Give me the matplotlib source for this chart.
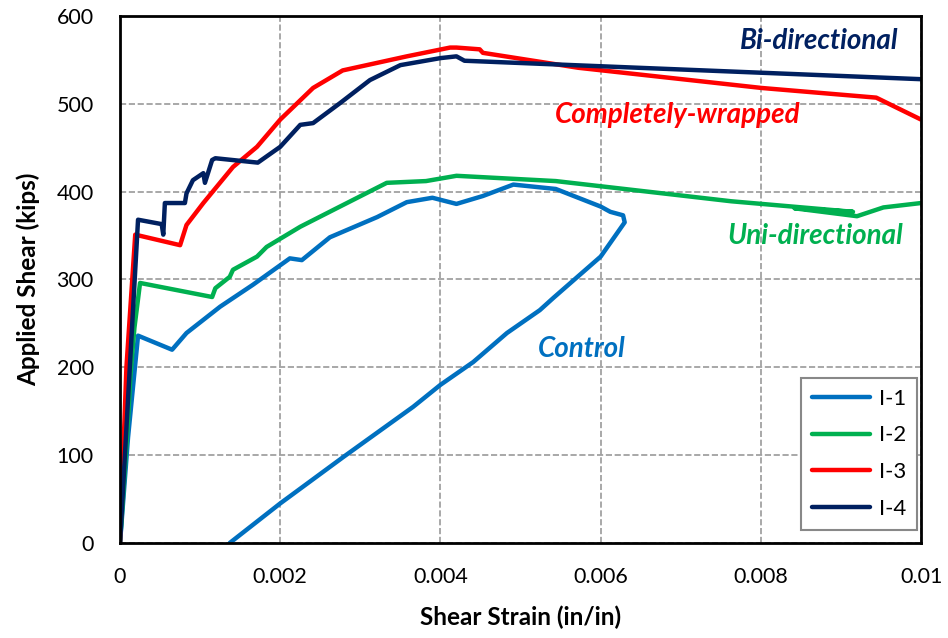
import matplotlib
matplotlib.use("Agg")
import matplotlib.pyplot as plt

plt.rcParams['font.family'] = ['Lato', 'DejaVu Sans']

# I-1 (control)
x1 = [0, 0.0001, 0.000225, 0.00065, 0.00083, 0.00125, 0.00166, 0.00212, 0.00227, 0.00262, 0.00321,
      0.00358, 0.0039, 0.0042, 0.00453, 0.00491, 0.00544, 0.006, 0.00612, 0.00628, 0.0063, 0.006,
      0.00541, 0.00524, 0.00483, 0.00441, 0.004, 0.00366, 0.00279, 0.002, 0.00137]
y1 = [0, 120, 236, 220, 239, 269, 294, 324, 322, 348, 371,
      388, 393, 386, 395, 408, 403, 383, 377, 373, 365, 326,
      279, 265, 239, 206, 180, 155, 98, 45, 0]
# I-2 (uni-directional)
x2 = [0, 0.0001, 0.00013, 0.00018, 0.00025, 0.00115, 0.00119, 0.00137, 0.00141, 0.00171, 0.00183,
      0.00225, 0.00266, 0.00333, 0.00382, 0.0042, 0.00544, 0.00763, 0.00915, 0.00842, 0.0092,
      0.00953, 0.01]
y2 = [0, 140, 190, 245, 296, 280, 290, 303, 311, 326, 337,
      360, 379, 410, 412, 418, 412, 389, 377, 381, 372,
      382, 387]
# I-3 (completely-wrapped)
x3 = [0, 0.00008, 0.00019, 0.00075, 0.00083, 0.00104, 0.00141, 0.00171, 0.002, 0.00241, 0.00278,
      0.00328, 0.00358, 0.00412, 0.0042, 0.00449, 0.00453, 0.00572, 0.00801, 0.00944, 0.01]
y3 = [0, 200, 351, 339, 362, 387, 428, 451, 482, 518, 538,
      548, 554, 564, 564, 562, 558, 541, 518, 507, 482]
# I-4 (bi-directional)
x4 = [0, 0.000225, 0.00052, 0.00054, 0.00056, 0.00081, 0.00083, 0.00091, 0.00104, 0.00106, 0.00115,
      0.00119, 0.00172, 0.002, 0.00225, 0.00241, 0.00275, 0.00312, 0.0035, 0.004, 0.0042, 0.0043, 0.01]
y4 = [0, 368, 363, 351, 387, 387, 398, 413, 421, 410, 436,
      438, 433, 451, 476, 478, 501, 527, 544, 552, 554, 549, 528]

series = [("I-1", x1, y1, "#0070C0"), ("I-2", x2, y2, "#00B050"),
          ("I-3", x3, y3, "#FF0000"), ("I-4", x4, y4, "#002060")]

fig = plt.figure(figsize=(9.48, 6.38), dpi=100)
ax = fig.add_axes([0.1266, 0.149, 0.845, 0.826])
for name, x, y, c in series:
    ax.plot(x, y, color=c, lw=3.2, label=name, solid_capstyle='round', solid_joinstyle='round')

ax.set_xlim(0, 0.01)
ax.set_ylim(0, 600)
ax.set_xticks([0, 0.002, 0.004, 0.006, 0.008, 0.01])
ax.set_xticklabels(["0", "0.002", "0.004", "0.006", "0.008", "0.01"])
ax.set_yticks(range(0, 601, 100))
ax.tick_params(length=0, labelsize=15.5)
ax.tick_params(axis='x', pad=17)
ax.tick_params(axis='y', pad=19)
ax.grid(True, ls='--', color='#999999', lw=1.2)
for s in ax.spines.values():
    s.set_linewidth(2)
    s.set_color('black')
ax.set_xlabel("Shear Strain (in/in)", fontsize=17.5, fontweight='bold', labelpad=14)
ax.set_ylabel("Applied Shear (kips)", fontsize=17.5, fontweight='bold', labelpad=12)

ax.text(0.00972, 572, "Bi-directional", color="#002060", fontsize=20, fontweight='bold',
        style='italic', ha='right', va='center')
ax.text(0.0085, 487, "Completely-wrapped", color="#FF0000", fontsize=20, fontweight='bold',
        style='italic', ha='right', va='center')
ax.text(0.00978, 349, "Uni-directional", color="#00B050", fontsize=20, fontweight='bold',
        style='italic', ha='right', va='center')
ax.text(0.00577, 221, "Control", color="#0070C0", fontsize=20, fontweight='bold',
        style='italic', ha='center', va='center')

leg = ax.legend(loc='lower right', fontsize=16, fancybox=False, edgecolor='#888888',
                framealpha=1, handlelength=2.6, handletextpad=0.4, borderpad=0.5,
                labelspacing=0.75, borderaxespad=0, bbox_to_anchor=(0.995, 0.025))
leg.get_frame().set_linewidth(1.5)

fig.savefig("out.png", dpi=100)
